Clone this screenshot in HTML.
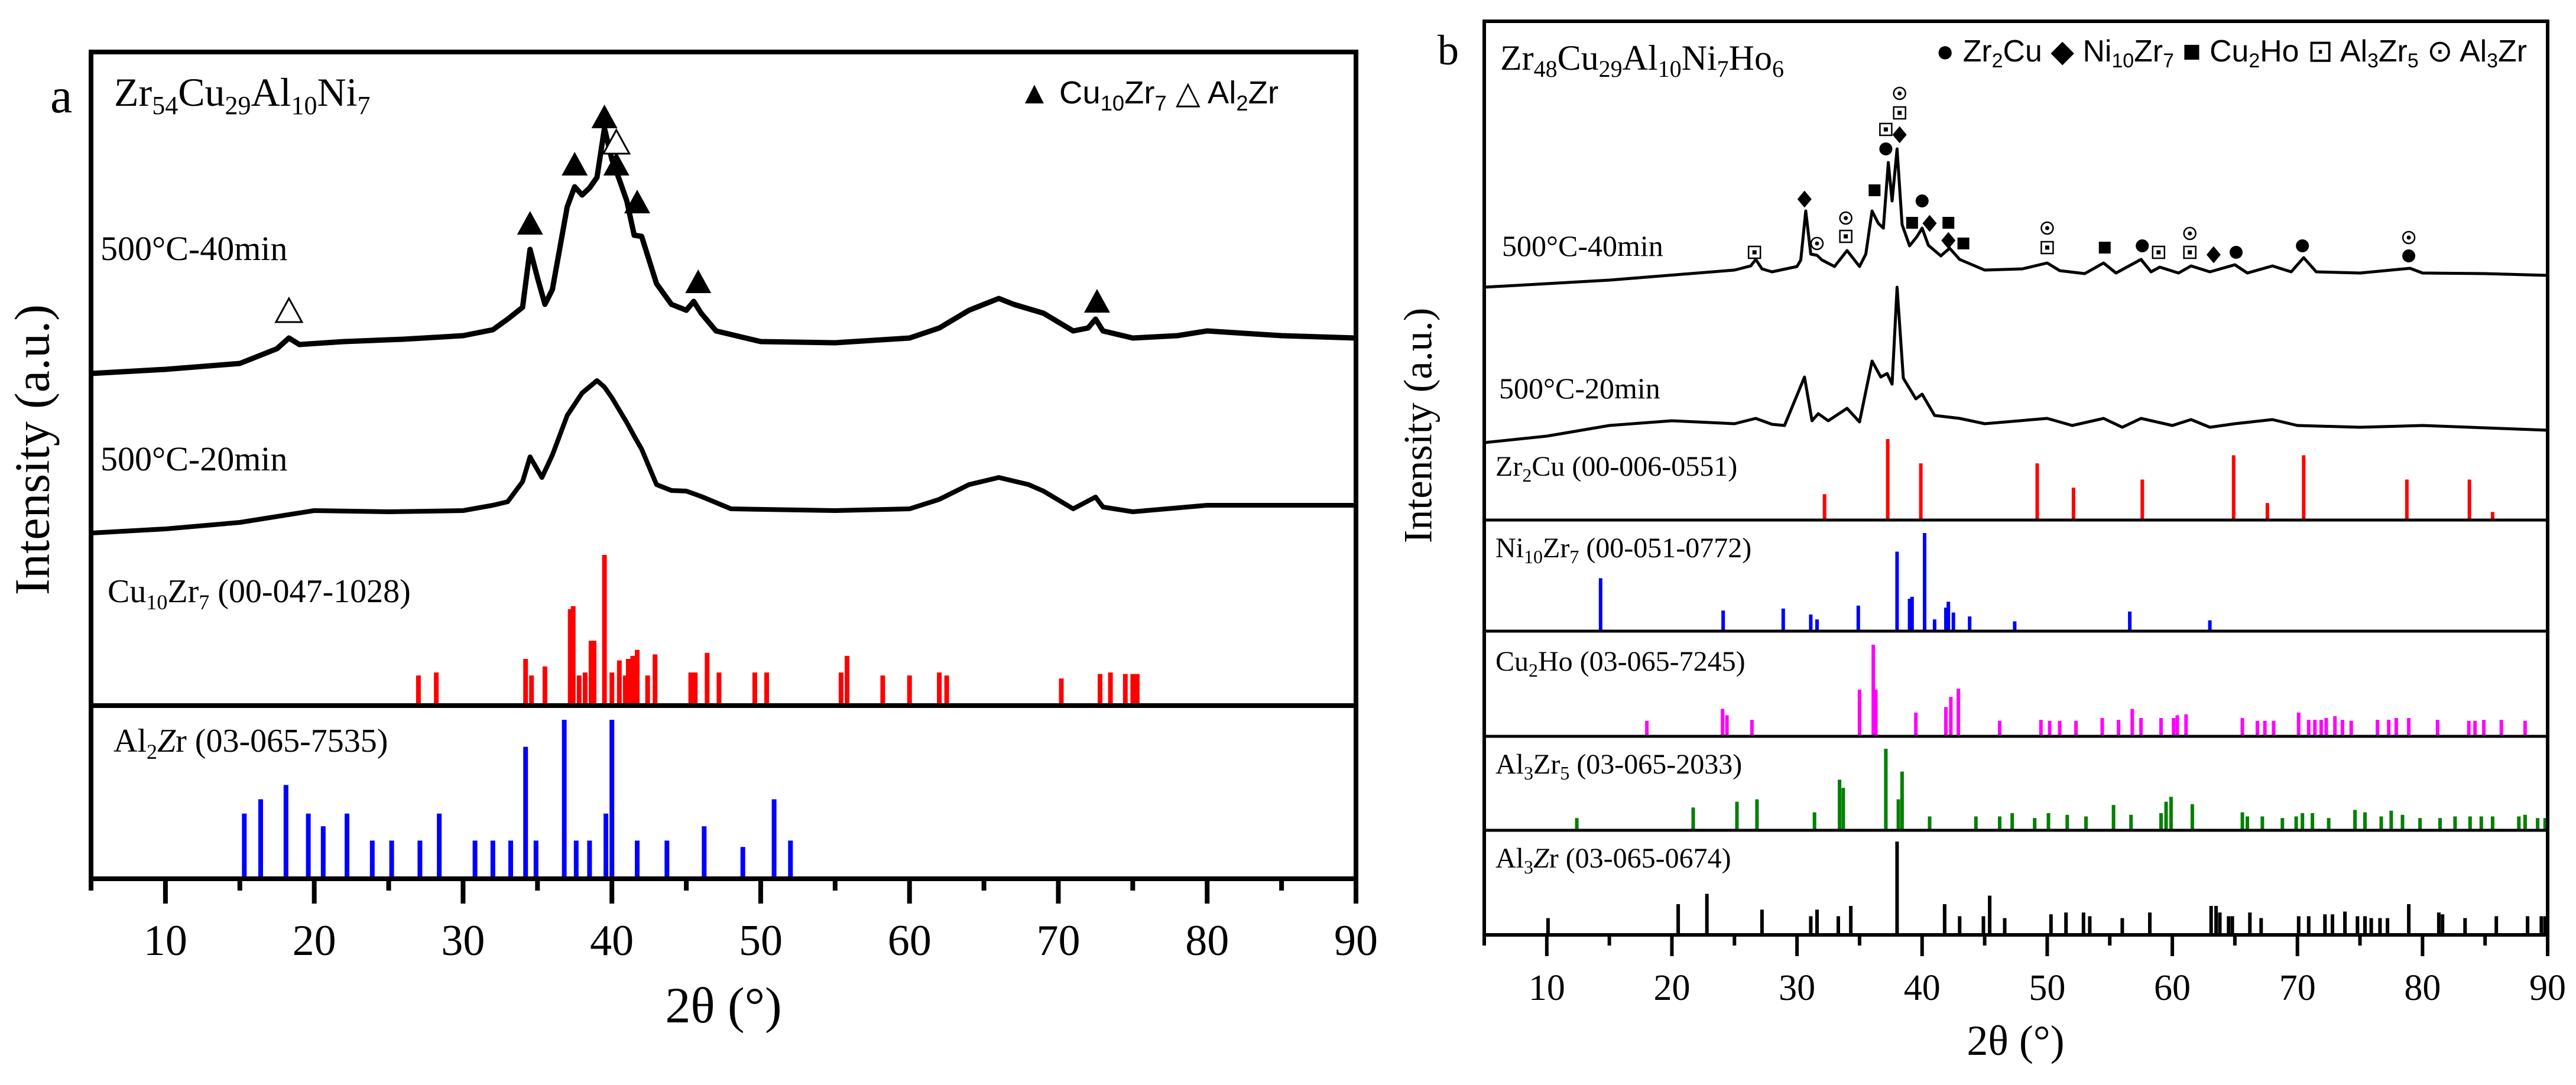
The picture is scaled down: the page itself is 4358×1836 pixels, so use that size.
<!DOCTYPE html>
<html><head><meta charset="utf-8"><style>
html,body{margin:0;padding:0;background:#fff;}
svg{display:block;}
text{font-family:"Liberation Serif",serif;fill:#000;}
.sans{font-family:"Liberation Sans",sans-serif;}
</style></head><body>
<svg id="fig" xmlns="http://www.w3.org/2000/svg" width="4358" height="1836" viewBox="0 0 4358 1836">
<rect x="0" y="0" width="4358" height="1836" fill="#fff"/>
<g id="gA"></g>
<g id="gB"></g>
<text x="85" y="190" font-size="84">a</text>
<text x="193" y="179" font-size="68">Zr<tspan font-size="44" dy="14">54</tspan><tspan dy="-14">Cu</tspan><tspan font-size="44" dy="14">29</tspan><tspan dy="-14">Al</tspan><tspan font-size="44" dy="14">10</tspan><tspan dy="-14">Ni</tspan><tspan font-size="44" dy="14">7</tspan></text>
<text class="sans" x="1723" y="175" font-size="54" textLength="440" lengthAdjust="spacingAndGlyphs">▲ Cu<tspan font-size="36" dy="12">10</tspan><tspan dy="-12">Zr</tspan><tspan font-size="36" dy="12">7</tspan><tspan dy="-12">  △ Al</tspan><tspan font-size="36" dy="12">2</tspan><tspan dy="-12">Zr</tspan></text>
<text x="170" y="440" font-size="58">500°C-40min</text>
<text x="170" y="796" font-size="58">500°C-20min</text>
<text x="182" y="1019" font-size="56">Cu<tspan font-size="36" dy="12">10</tspan><tspan dy="-12">Zr</tspan><tspan font-size="36" dy="12">7</tspan><tspan dy="-12"> (00-047-1028)</tspan></text>
<text x="192" y="1272" font-size="56">Al<tspan font-size="36" dy="12">2</tspan><tspan dy="-12" font-style="italic">Z</tspan><tspan>r (03-065-7535)</tspan></text>
<text x="63" y="761" font-size="84" text-anchor="middle" dominant-baseline="middle" transform="rotate(-90 63 761)">Intensity (a.u.)</text>
<text x="1224" y="1730" font-size="86" text-anchor="middle">2θ (°)</text>
<text x="2432" y="109" font-size="72">b</text>
<text x="2538" y="118" font-size="60">Zr<tspan font-size="40" dy="12">48</tspan><tspan dy="-12">Cu</tspan><tspan font-size="40" dy="12">29</tspan><tspan dy="-12">Al</tspan><tspan font-size="40" dy="12">10</tspan><tspan dy="-12">Ni</tspan><tspan font-size="40" dy="12">7</tspan><tspan dy="-12">Ho</tspan><tspan font-size="40" dy="12">6</tspan></text>
<text class="sans" x="3275" y="104" font-size="52" textLength="1000" lengthAdjust="spacingAndGlyphs">● Zr<tspan font-size="34" dy="10">2</tspan><tspan dy="-10">Cu  ◆ Ni</tspan><tspan font-size="34" dy="10">10</tspan><tspan dy="-10">Zr</tspan><tspan font-size="34" dy="10">7</tspan><tspan dy="-10"> ■ Cu</tspan><tspan font-size="34" dy="10">2</tspan><tspan dy="-10">Ho  ⊡ Al</tspan><tspan font-size="34" dy="10">3</tspan><tspan dy="-10">Zr</tspan><tspan font-size="34" dy="10">5</tspan><tspan dy="-10">  ⊙ Al</tspan><tspan font-size="34" dy="10">3</tspan><tspan dy="-10">Zr</tspan></text>
<text x="2541" y="433" font-size="50">500°C-40min</text>
<text x="2536" y="674" font-size="50">500°C-20min</text>
<text x="2530" y="805" font-size="48">Zr<tspan font-size="32" dy="10">2</tspan><tspan dy="-10">Cu (00-006-0551)</tspan></text>
<text x="2530" y="943" font-size="48">Ni<tspan font-size="32" dy="10">10</tspan><tspan dy="-10">Zr</tspan><tspan font-size="32" dy="10">7</tspan><tspan dy="-10"> (00-051-0772)</tspan></text>
<text x="2530" y="1135" font-size="48">Cu<tspan font-size="32" dy="10">2</tspan><tspan dy="-10">Ho (03-065-7245)</tspan></text>
<text x="2530" y="1309" font-size="48">Al<tspan font-size="32" dy="10">3</tspan><tspan dy="-10">Zr</tspan><tspan font-size="32" dy="10">5</tspan><tspan dy="-10"> (03-065-2033)</tspan></text>
<text x="2530" y="1468" font-size="48">Al<tspan font-size="32" dy="10">3</tspan><tspan dy="-10" font-style="italic">Z</tspan><tspan>r (03-065-0674)</tspan></text>
<text x="2406" y="720" font-size="68" text-anchor="middle" dominant-baseline="middle" transform="rotate(-90 2406 720)">Intensity (a.u.)</text>
<text x="3410" y="1785" font-size="72" text-anchor="middle">2θ (°)</text>
</svg>
<script>
// ---------- DATA: panel a ----------
const tickLabels = [10,20,30,40,50,60,70,80,90];
const a40Angles = [5,10,15,17.5,18.3,19,22,26,30,32,33,34,34.5,35,35.5,36,37,37.5,38,38.5,39,39.5,40,40.5,41,41.5,42,43,44,45,45.5,46,47,50,55,60,62,64,66,67,69,71,72,72.5,73,75,78,80,85,90];
const a40Int = [28,35,45,70,88,77,82,86,92,102,120,140,238,190,145,170,310,344,330,342,360,443,390,356,320,262,260,180,145,135,150,130,100,82,80,88,105,135,155,145,130,100,105,120,100,88,92,100,92,88];
const a20Angles = [5,10,15,20,25,30,32,33,34,34.5,35.3,36,37,38,39,39.5,40,41,41.5,42,43,44,45,46,48,55,60,62,64,66,68,69,71,72.5,73,75,80,90];
const a20Int = [28,35,46,66,64,66,75,81,115,157,122,160,227,265,286,275,257,215,192,170,110,100,99,90,69,66,69,85,110,122,110,99,69,89,72,64,75,75];
const cu10zr7Pos = [27,28.2,34.2,34.6,35.5,37.2,37.4,37.8,38.2,38.6,38.8,39.5,40,40.5,40.9,41.1,41.4,41.7,42.4,42.9,45.3,45.6,46.4,47.2,49.6,50.4,55.4,55.8,58.2,60,62,62.5,70.2,72.8,73.5,74.5,75,75.3];
const cu10zr7Int = [20,22,31,20,26,64,66,20,22,43,43,100,22,30,20,31,33,37,20,34,22,22,35,22,22,22,22,33,20,20,22,20,18,21,22,21,21,21];
const al2zrPos = [15.3,16.4,18.1,19.6,20.6,22.2,23.9,25.2,27.1,28.4,30.8,32,33.2,34.2,34.9,36.8,37.6,38.5,39.6,40,41.7,43.7,46.2,48.8,50.9,52];
const al2zrInt = [41,50,59,41,33,41,24,24,24,41,24,24,24,83,24,100,24,24,41,100,24,24,33,20,50,24];
const aFilledTri = [34.5,37.5,39.5,40.3,41.7,45.8,72.6];
const aFilledTriLvl = [279,379,459,379,315,180,147];
const aOpenTri = [18.3,40.3];
const aOpenTriLvl = [131,416];
// ---------- DATA: panel b ----------
const b40Angles = [5,15,25,26.3,26.7,27.2,28,30,30.3,30.7,31.1,31.6,32,33,34,35,35.5,36,36.5,36.9,37.3,37.6,38,38.4,39,39.6,40,40.5,41.5,42.2,43,45,48,50,51,53,54.5,55.5,57.5,58.3,59,60.5,61.5,63,65,66,68,69.5,70.5,71.5,75,77,79,80,85,90];
const b40Int = [14,26,43,50,61,45,40,49,60,143,70,68,60,49,76,49,70,143,122,114,225,160,248,120,84,100,114,85,67,80,61,43,45,55,42,37,55,38,61,40,48,38,50,40,52,38,50,40,64,40,38,42,46,38,37,34];
const b20Angles = [5,10,15,20,25,26.7,28,29,30.6,31.2,31.7,32.5,34,35,36,36.7,37.2,37.6,38,38.5,39.5,40,41,43,45,50,52,54.5,56,57.5,60,61.5,63,65,68,70,75,80,90];
const b20Int = [11,22,40,48,43,52,42,40,122,48,60,48,69,46,149,122,128,110,274,120,85,93,57,52,43,52,40,52,37,52,40,50,37,43,50,40,37,40,32];
const zr2cuPos = [32.2,37.25,39.9,49.2,52.1,57.6,64.9,67.6,70.5,78.75,83.75,85.6];
const zr2cuInt = [32,100,70,70,40,50,80,21,80,50,50,10];
const ni10zr7Pos = [14.3,24.1,28.9,31.1,31.6,34.9,38,39,39.2,40.2,41,41.9,42.1,42.5,43.8,47.4,56.6,63];
const ni10zr7Int = [54,21,23,17,12,26,81,33,35,100,12,24,30,19,15,10,20,11];
const cu2hoPos = [18,24.05,24.4,26.4,35,36.1,36.3,39.5,41.9,42.3,42.9,46.2,49.5,50.2,51,52.3,54.4,55.7,56.8,57.5,59.1,60.1,60.4,61.1,65.6,66.8,67.4,68.1,70.1,70.9,71.4,71.9,72.3,73,73.6,74.3,76.4,77.3,77.9,78.9,81.2,83.7,84.2,84.9,86.3,88.2];
const cu2hoInt = [17,30,23,18,51,100,51,26,32,43,52,17,18,17,17,17,20,18,30,20,20,20,23,24,20,17,17,17,26,18,18,18,20,22,18,17,18,18,20,20,18,17,17,18,18,17];
const al3zr5Pos = [12.4,21.7,25.2,26.8,31.4,33.4,33.7,37.1,38.1,38.4,40.6,44.3,46.2,47.2,49,50.1,51.6,53.1,55.3,56.7,59.1,59.5,59.9,61.6,65.6,66,67.2,68.8,69.9,70.4,71.2,72.5,74.6,75.4,76.7,77.5,78.4,79.8,81.4,82.6,83.8,84.7,85.6,87.7,88.2,89.2,89.8];
const al3zr5Int = [15,28,35,38,22,62,52,100,38,72,17,17,17,21,15,21,19,17,31,19,21,35,41,32,22,17,17,15,17,21,21,15,25,22,17,24,19,15,15,17,17,17,17,17,19,15,15];
const al3zrPos = [10.1,20.5,22.8,27.2,31.1,31.6,33.3,34.3,38,41.8,43,44.9,45.4,46.6,50.3,51.5,52.9,53.4,56,58.2,63.1,63.5,63.8,64.5,64.8,66.2,67.1,70.1,70.9,72.2,72.8,73.8,74.8,75.4,75.9,76.6,77.2,78.9,81.3,81.6,83.4,85.9,88.4,89.5,89.8];
const al3zrInt = [18,33,44,27,20,27,20,31,100,33,20,20,42,18,22,24,24,20,18,24,31,31,24,20,20,24,18,20,20,22,22,25,20,20,18,18,18,33,24,22,18,20,20,20,20];
const bCircle = [37.1,40.0,57.6,65.1,70.4,78.9];
const bCircleLvl = [248,160,84,73,84,67];
const bDiamond = [30.6,38.2,40.6,42.1,63.3];
const bDiamondLvl = [163,272,122,93,69];
const bSquare = [36.2,39.2,42.1,43.3,54.6];
const bSquareLvl = [178,123,123,88,81];
const bBoxDot = [26.6,33.9,37.1,38.2,50,58.9,61.4];
const bBoxDotLvl = [73,100,281,309,81,73,73];
const bCircDot = [31.6,33.9,38.2,50,61.4,78.9];
const bCircDotLvl = [88,131,342,114,105,98];

const NS = 'http://www.w3.org/2000/svg';
function mk(tag, parent, attrs){ const e=document.createElementNS(NS,tag); for(const k in attrs) e.setAttribute(k,attrs[k]); parent.appendChild(e); return e; }
const gA=document.getElementById('gA'), gB=document.getElementById('gB');
const A={x0:154,x1:2294,top:88,bot:1487,div:1194};
const B={x0:2511,x1:4310,top:36,bot:1582,divs:[880,1068,1246,1405]};
function xa(d){return A.x0+(d-5)*(A.x1-A.x0)/85;}
function xb(d){return B.x0+(d-5)*(B.x1-B.x0)/85;}

function curve(parent,xf,angles,ints,base,sw,name){
  let d='';
  for(let i=0;i<angles.length;i++){ d+=(i?'L':'M')+xf(angles[i]).toFixed(1)+' '+(base-ints[i]).toFixed(1); }
  const p=mk('path',parent,{d:d,fill:'none',stroke:'#000','stroke-width':sw,'stroke-linejoin':'round'});
  
  
}
function sticks(parent,xf,pos,ints,base,hmax,color,w,name){
  const g=mk('g',parent,{});
  
  
  for(let i=0;i<pos.length;i++){
    const h=ints[i]/100*hmax;
    const r=mk('rect',g,{x:(xf(pos[i])-w/2).toFixed(1),y:(base-h).toFixed(1),width:w,height:h.toFixed(1),fill:color});
    
    
  }
}
function frame(parent,P,xf,sw,majLen,minLen,fs,labY,name){
  const r=mk('rect',parent,{x:P.x0,y:P.top,width:P.x1-P.x0,height:P.bot-P.top,fill:'none',stroke:'#000','stroke-width':sw});
  
  
  for(let d=5; d<=90; d+=5){
    const major = d%10===0;
    const t=mk('line',parent,{x1:xf(d),x2:xf(d),y1:P.bot,y2:P.bot+(major?majLen:minLen),stroke:'#000','stroke-width':sw});
    
    
  }
  tickLabels.forEach(v=>{
    const t=mk('text',parent,{x:xf(v),y:labY,'font-size':fs,'text-anchor':'middle','font-family':'Liberation Serif, serif'});
    t.textContent=v;
    
    
  });
}
function marker(parent,type,x,y,s){
  let e;
  if(type==='tri'){ e=mk('path',parent,{d:`M${x} ${y-s*0.6}L${x+s*0.55} ${y+s*0.4}L${x-s*0.55} ${y+s*0.4}Z`,fill:'#000'}); }
  else if(type==='otri'){ e=mk('path',parent,{d:`M${x} ${y-s*0.6}L${x+s*0.55} ${y+s*0.4}L${x-s*0.55} ${y+s*0.4}Z`,fill:'#fff',stroke:'#000','stroke-width':3}); }
  else if(type==='circle'){ e=mk('circle',parent,{cx:x,cy:y,r:s/2,fill:'#000'}); }
  else if(type==='diamond'){ e=mk('path',parent,{d:`M${x} ${y-s*0.6}L${x+s*0.5} ${y}L${x} ${y+s*0.6}L${x-s*0.5} ${y}Z`,fill:'#000'}); }
  else if(type==='square'){ e=mk('rect',parent,{x:x-s/2,y:y-s/2,width:s,height:s,fill:'#000'}); }
  else if(type==='boxdot'){ e=mk('g',parent,{}); mk('rect',e,{x:x-s/2,y:y-s/2,width:s,height:s,fill:'#fff',stroke:'#000','stroke-width':2.5}); mk('rect',e,{x:x-3.5,y:y-3.5,width:7,height:7,fill:'#000'}); }
  else { e=mk('g',parent,{}); mk('circle',e,{cx:x,cy:y,r:s/2,fill:'#fff',stroke:'#000','stroke-width':2.5}); mk('circle',e,{cx:x,cy:y,r:3.5,fill:'#000'}); }
  
  
}

curve(gA,xa,a40Angles,a40Int,660,9,'curve-a-40min');
curve(gA,xa,a20Angles,a20Int,930,8,'curve-a-20min');
sticks(gA,xa,cu10zr7Pos,cu10zr7Int,A.div,255,'#ff0000',8,'cu10zr7-sticks');
sticks(gA,xa,al2zrPos,al2zrInt,A.bot,269,'#0000ff',8,'al2zr-sticks');
const dA=mk('line',gA,{x1:A.x0,x2:A.x1,y1:A.div,y2:A.div,stroke:'#000','stroke-width':8});


frame(gA,A,xa,8,42,20,74,1616,'panel-a');
aFilledTri.forEach((d,i)=>marker(gA,'tri',xa(d),660-aFilledTriLvl[i],40));
aOpenTri.forEach((d,i)=>marker(gA,'otri',xa(d),660-aOpenTriLvl[i],40));

curve(gB,xb,b40Angles,b40Int,500,5,'curve-b-40min');
curve(gB,xb,b20Angles,b20Int,760,5,'curve-b-20min');
sticks(gB,xb,zr2cuPos,zr2cuInt,B.divs[0],137,'#ff0000',6,'zr2cu-sticks');
sticks(gB,xb,ni10zr7Pos,ni10zr7Int,B.divs[1],166,'#0000ff',6,'ni10zr7-sticks');
sticks(gB,xb,cu2hoPos,cu2hoInt,B.divs[2],155,'#ff00ff',6,'cu2ho-sticks');
sticks(gB,xb,al3zr5Pos,al3zr5Int,B.divs[3],138,'#008000',6,'al3zr5-sticks');
sticks(gB,xb,al3zrPos,al3zrInt,B.bot,158,'#000000',6,'al3zr-sticks');
B.divs.forEach(y=>{
  const l=mk('line',gB,{x1:B.x0,x2:B.x1,y1:y,y2:y,stroke:'#000','stroke-width':5});
  
  
});
frame(gB,B,xb,6,36,18,62,1692,'panel-b');
bCircle.forEach((d,i)=>marker(gB,'circle',xb(d),500-bCircleLvl[i],22));
bDiamond.forEach((d,i)=>marker(gB,'diamond',xb(d),500-bDiamondLvl[i],24));
bSquare.forEach((d,i)=>marker(gB,'square',xb(d),500-bSquareLvl[i],20));
bBoxDot.forEach((d,i)=>marker(gB,'boxdot',xb(d),500-bBoxDotLvl[i],20));
bCircDot.forEach((d,i)=>marker(gB,'circdot',xb(d),500-bCircDotLvl[i],20));
</script>
</body></html>
